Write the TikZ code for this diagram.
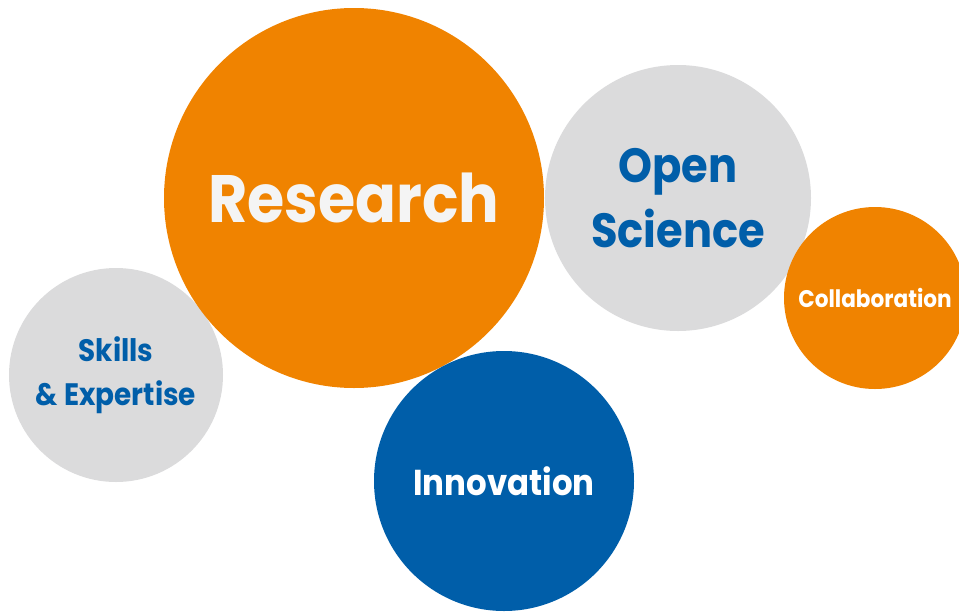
\documentclass[tikz,border=0pt]{standalone}
\usepackage{fontspec}
\setmainfont{Poppins}[FakeStretch=0.9]
\definecolor{resorange}{HTML}{F08300}
\definecolor{resgrey}{HTML}{DBDBDC}
\definecolor{resblue}{HTML}{005EA9}
\definecolor{offwhite}{HTML}{F4F4F4}
\tikzset{
  bubble/.style={circle, inner sep=0pt, align=center},
  orangebubble/.style={bubble, fill=resorange, text=white},
  greybubble/.style={bubble, fill=resgrey, text=resblue},
  bluebubble/.style={bubble, fill=resblue, text=white},
}
\newcommand{\bubblefont}[2]{\bfseries\fontsize{#1}{#2}\selectfont}

\begin{document}
\begin{tikzpicture}[x=1pt,y=-1pt]
    \useasboundingbox (0,0) rectangle (959,611);

    % grey circles behind
    \node [greybubble, minimum size=214pt, font=\bubblefont{31}{44}] (skills) at (116,375) {Skills\\\& Expertise};
    \node [greybubble, minimum size=266pt, font=\bubblefont{48}{65}] (open) at (678,198) {Open\\Science};

    % orange circles
    \node [orangebubble, minimum size=380pt, text=offwhite, font=\bubblefont{67}{67}] (research) at (354,198) {Research};
    \node [orangebubble, minimum size=182pt, font=\bubblefont{24}{24}] (collab) at (875,298) {Collaboration};

    % blue circle
    \node [bluebubble, minimum size=260pt, font=\bubblefont{36}{36}] (innov) at (504,481) {Innovation};
\end{tikzpicture}
\end{document}
